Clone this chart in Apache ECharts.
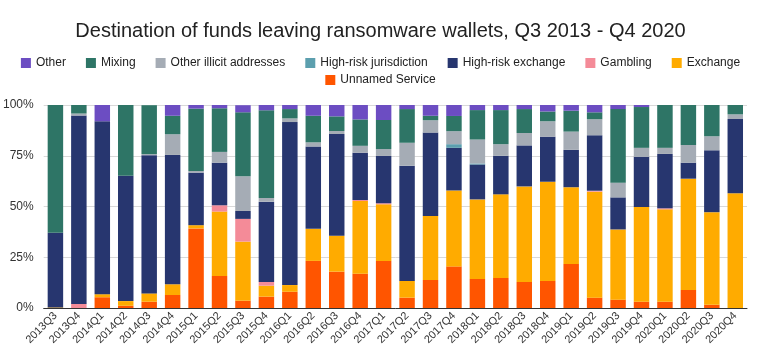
<!DOCTYPE html>
<html>
<head>
<meta charset="utf-8">
<script src="https://cdn.jsdelivr.net/npm/echarts@6/dist/echarts.min.js"></script>
<style>html,body{margin:0;padding:0;background:#fff;}#c{width:761px;height:360px;}</style>
</head>
<body>
<div id="c"></div>
<script>
const categories = ['2013Q3','2013Q4','2014Q1','2014Q2','2014Q3','2014Q4','2015Q1','2015Q2','2015Q3','2015Q4','2016Q1','2016Q2','2016Q3','2016Q4','2017Q1','2017Q2','2017Q3','2017Q4','2018Q1','2018Q2','2018Q3','2018Q4','2019Q1','2019Q2','2019Q3','2019Q4','2020Q1','2020Q2','2020Q3','2020Q4'];
const unnamedService = [0,0,5.3,1.1,3.1,6.4,39.2,15.8,3.6,5.6,8,23.2,17.9,16.9,23.2,5.1,13.8,20.5,14.3,14.8,12.8,13.3,21.7,5.1,4.1,3.1,3.1,8.9,1.6,0];
const exchange = [0.3,0,1.5,2.3,4.1,5.3,1.6,31.7,29.1,5.4,3.3,15.8,17.7,35.8,27.9,8.2,31.5,37.4,39.2,41.2,47.1,48.9,37.8,52.2,34.6,46.6,45.5,54.8,45.6,56.5];
const gambling = [0,2,0,0,0,0,0,3.1,11.2,1.8,0,0,0,0.5,0.5,0,0,0,0,0,0,0,0,0.4,0,0,0.5,0,0,0];
const highRiskExchange = [36.8,92.8,85.2,61.7,68.1,63.7,25.9,21,3.9,39.6,80.3,40.6,50.1,23.3,23.3,56.8,41.1,21,17.2,19,20.2,22.2,18.4,27.4,15.8,24.8,26.8,7.9,30.5,36.6];
const highRiskJurisdiction = [0,0,0,0,0,0,0,0,0,0,0,0,0,0,0,0,0,1.8,0.5,0,0,0,0,0,0,0,0,0,0,0];
const otherIllicit = [0,1,0,0,0.5,10.2,0.8,5.3,17.1,1.8,1.8,2,1.5,3.4,3.4,11.3,6.1,6.4,11.8,5.7,6.1,7.6,9,7.9,7.2,4.4,3,8.7,6.9,2.3];
const mixing = [62.9,4.2,0,34.9,24.1,9.1,30.7,21.5,31.5,43.2,4.6,13.1,7.2,13,14.3,16.6,2.2,7.5,14.5,16.8,11.8,4.8,10.3,3.4,36.3,20.1,21.1,19.7,15.4,4.6];
const other = [0,0,8,0,0,5.3,1.8,1.6,3.5,2.6,2,5.3,5.6,7.2,7.4,2,5.3,5.4,2.5,2.5,2,3.2,2.8,3.6,2,1,0,0,0,0];

const seriesDefs = [
  ['Unnamed Service', unnamedService, '#ff5500'],
  ['Exchange', exchange, '#ffab00'],
  ['Gambling', gambling, '#f48b98'],
  ['High-risk exchange', highRiskExchange, '#27366f'],
  ['High-risk jurisdiction', highRiskJurisdiction, '#5c9fae'],
  ['Other illicit addresses', otherIllicit, '#a5acb5'],
  ['Mixing', mixing, '#2e7566'],
  ['Other', other, '#6c4dc2']
];

const chart = echarts.init(document.getElementById('c'));
const legendText = {fontFamily: 'Liberation Sans, Arial, sans-serif', fontSize: 12, color: '#222'};
chart.setOption({
  animation: false,
  title: {
    text: 'Destination of funds leaving ransomware wallets, Q3 2013 - Q4 2020',
    left: 'center', top: 16,
    textStyle: {fontFamily: 'Liberation Sans, Arial, sans-serif', fontSize: 20, fontWeight: 'normal', color: '#222'}
  },
  legend: [
    {data: ['Other','Mixing','Other illicit addresses','High-risk jurisdiction','High-risk exchange','Gambling','Exchange'],
     left: 'center', top: 52, itemWidth: 10, itemHeight: 10, itemGap: 20, icon: 'rect', textStyle: legendText},
    {data: ['Unnamed Service'], left: 'center', top: 69, itemWidth: 10, itemHeight: 10, icon: 'rect', textStyle: legendText}
  ],
  grid: {left: 41, right: 14, top: 105, bottom: 52, containLabel: false},
  xAxis: {
    type: 'category', data: categories,
    axisLine: {lineStyle: {color: '#333'}},
    axisTick: {show: false},
    axisLabel: {rotate: 45, interval: 0, fontSize: 11, color: '#333', fontFamily: 'Liberation Sans, Arial, sans-serif', margin: 6}
  },
  yAxis: {
    type: 'value', min: 0, max: 100, interval: 25,
    axisLabel: {formatter: '{value}%', fontSize: 12, color: '#333', fontFamily: 'Liberation Sans, Arial, sans-serif', margin: 10},
    splitLine: {lineStyle: {color: '#d9d9d9'}},
    axisLine: {show: false}, axisTick: {show: false}
  },
  series: seriesDefs.map(([name, data, color]) => ({
    name, type: 'bar', stack: 'total', data, barWidth: '66%',
    itemStyle: {color}
  }))
});
</script>
</body>
</html>
